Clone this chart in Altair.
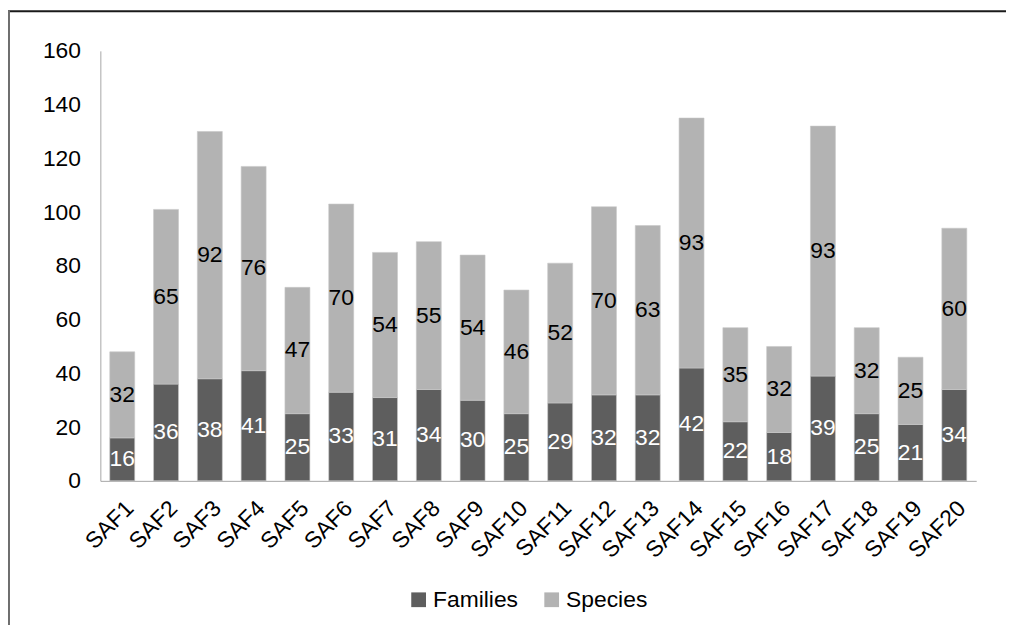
import altair as alt
import pandas as pd

sites = [f"SAF{i}" for i in range(1, 21)]
families = [16, 36, 38, 41, 25, 33, 31, 34, 30, 25, 29, 32, 32, 42, 22, 18, 39, 25, 21, 34]
species = [32, 65, 92, 76, 47, 70, 54, 55, 54, 46, 52, 70, 63, 93, 35, 32, 93, 32, 25, 60]
series = ["Families", "Species"]
colors = ["#5e5e5e", "#b3b3b3"]

rows = []
for s, f, sp in zip(sites, families, species):
    rows.append({"site": s, "series": "Families", "value": f, "lo": 0, "hi": f, "mid": f / 2, "ord": 0})
    rows.append({"site": s, "series": "Species", "value": sp, "lo": f, "hi": f + sp, "mid": f + sp / 2, "ord": 1})
df = pd.DataFrame(rows)

FONT = "Liberation Sans"
FS = 23

x = alt.X("site:N", sort=sites, title=None,
          scale=alt.Scale(paddingInner=0.43, paddingOuter=0.215),
          axis=alt.Axis(labelAngle=-45, ticks=False, labelPadding=16, labelFontSize=FS,
                        labelColor="#000000", domainColor="#a6a6a6", labelFont=FONT))

bars = alt.Chart(df).mark_bar(stroke="#c8c8c8", strokeWidth=0.6).encode(
    x=x,
    y=alt.Y("lo:Q", title=None,
            scale=alt.Scale(domain=[0, 160]),
            axis=alt.Axis(values=list(range(0, 161, 20)), ticks=False, grid=False,
                          labelPadding=20, labelFontSize=FS, labelColor="#000000",
                          domainColor="#a6a6a6", labelFont=FONT)),
    y2="hi:Q",
    color=alt.Color("series:N", sort=series,
                    scale=alt.Scale(domain=series, range=colors),
                    legend=alt.Legend(title=None, orient="none", direction="horizontal",
                                      legendX=309, legendY=541, symbolType="square",
                                      symbolSize=220, symbolStrokeWidth=0,
                                      labelFontSize=FS, labelFont=FONT, labelColor="#000000",
                                      columnPadding=22, symbolOffset=0, labelOffset=3)),
    order="ord:Q",
)

fam_text = alt.Chart(df[df.series == "Families"]).mark_text(
    color="white", fontSize=FS, font=FONT, baseline="middle"
).encode(x=alt.X("site:N", sort=sites), y="mid:Q", text="value:Q")

sp_text = alt.Chart(df[df.series == "Species"]).mark_text(
    color="black", fontSize=FS, font=FONT, baseline="middle"
).encode(x=alt.X("site:N", sort=sites), y="mid:Q", text="value:Q")

one = df[(df.site == "SAF1") & (df.series == "Families")]
top_border = alt.Chart(one).mark_rule(color="#1a1a1a", strokeWidth=2).encode(
    x=alt.value(-93), x2=alt.value(920), y=alt.value(-40)
)
left_border = alt.Chart(one).mark_rule(color="#6e6e6e", strokeWidth=2).encode(
    x=alt.value(-92), y=alt.value(-41), y2=alt.value(600)
)

chart = alt.layer(bars, fam_text, sp_text, top_border, left_border).properties(
    width=882, height=433,
    padding={"left": 93, "top": 41, "right": 30, "bottom": 143},
    autosize=alt.AutoSizeParams(type="none"),
).configure(font=FONT, view=alt.ViewConfig(stroke=None))

chart.save("out.html", embed_options={"renderer": "svg", "actions": False})
